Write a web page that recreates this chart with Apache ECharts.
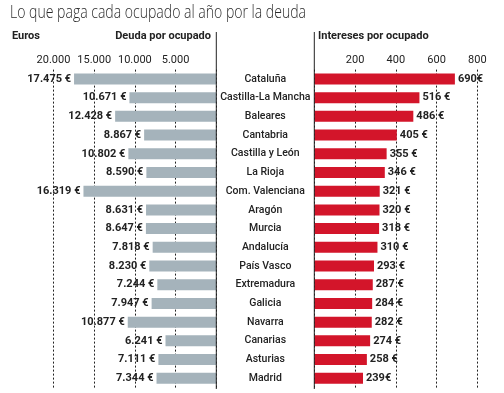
<!DOCTYPE html>
<html><head><meta charset="utf-8">
<script src="https://cdn.jsdelivr.net/npm/echarts@6/dist/echarts.min.js"></script>
<style>html,body{margin:0;padding:0;background:#fff}#c{width:504px;height:393px}</style>
</head><body><div id="c"></div>
<script>
const regiones = ["Cataluña","Castilla-La Mancha","Baleares","Cantabria","Castilla y León","La Rioja","Com. Valenciana","Aragón","Murcia","Andalucía","País Vasco","Extremadura","Galicia","Navarra","Canarias","Asturias","Madrid"];
const deuda = [17475,10671,12428,8867,10802,8590,16319,8631,8647,7818,8230,7244,7947,10877,6241,7111,7344];
const intereses = [690,516,486,405,355,346,321,320,318,310,293,287,284,282,274,258,239];
const sinEspacio = ["Cataluña","Madrid"];
const ticksDeuda = [5000,10000,15000,20000];
const ticksInt = [200,400,600,800];

const FONT = 'Roboto, "Liberation Sans", sans-serif';
const fmtMiles = v => String(v).replace(/\B(?=(\d{3})+(?!\d))/g, '.');
const chart = echarts.init(document.getElementById('c'), null, {renderer:'canvas'});
const gTop = 69.6, gH = 318;
chart.setOption({
  animation:false,
  textStyle:{fontFamily:FONT},
  graphic:[
    {type:'text', x:10, y:4, scaleX:0.78, style:{text:'Lo que paga cada ocupado al año por la deuda', font:'300 18px "Open Sans", sans-serif', fill:'#2a2a2a'}},
    {type:'text', x:12, y:31, style:{text:'Euros', font:'bold 11px '+FONT, fill:'#222'}},
    {type:'text', x:211, y:31, style:{text:'Deuda por ocupado', font:'bold 11px '+FONT, fill:'#222', align:'right'}},
    {type:'text', x:318, y:31, style:{text:'Intereses por ocupado', font:'bold 11px '+FONT, fill:'#222'}},
    {type:'line', shape:{x1:216.3,y1:32,x2:216.3,y2:389}, style:{stroke:'#222', lineWidth:1}, z:100},
    {type:'line', shape:{x1:314.3,y1:32,x2:314.3,y2:389}, style:{stroke:'#222', lineWidth:1}, z:100}
  ],
  grid:[
    {left:53.5, width:162.8, top:gTop, height:gH},
    {left:314.3, width:163, top:gTop, height:gH}
  ],
  xAxis:[
    {gridIndex:0, type:'value', inverse:true, min:0, max:20000, interval:5000, position:'top',
     axisLine:{show:false}, axisTick:{show:false},
     axisLabel:{margin:4, fontSize:11, color:'#222', fontFamily:FONT,
       formatter:v => ticksDeuda.includes(v) ? fmtMiles(v) : ''},
     splitLine:{lineStyle:{type:[2,2], color:'#222', width:1}}},
    {gridIndex:1, type:'value', min:0, max:800, interval:200, position:'top',
     axisLine:{show:false}, axisTick:{show:false},
     axisLabel:{margin:4, fontSize:11, color:'#222', fontFamily:FONT,
       formatter:v => ticksInt.includes(v) ? String(v) : ''},
     splitLine:{lineStyle:{type:[2,2], color:'#222', width:1}}}
  ],
  yAxis:[
    {gridIndex:0, type:'category', data:regiones, inverse:true, position:'right',
     axisLine:{show:false}, axisTick:{show:false}, axisLabel:{show:false}},
    {gridIndex:1, type:'category', data:regiones, inverse:true, position:'left',
     axisLine:{show:false}, axisTick:{show:false},
     axisLabel:{align:'center', margin:49, fontSize:10.5, color:'#222', fontFamily:FONT, fontWeight:500}}
  ],
  series:[
    {type:'bar', xAxisIndex:0, yAxisIndex:0, data:deuda, barWidth:11,
     itemStyle:{color:'#a5b3bb'},
     label:{show:true, position:'left', distance:3, fontSize:11, fontWeight:'bold', color:'#222', fontFamily:FONT,
       formatter:p => fmtMiles(p.value) + ' €'}},
    {type:'bar', xAxisIndex:1, yAxisIndex:1, data:intereses, barWidth:11,
     itemStyle:{color:'#d3152a'},
     label:{show:true, position:'right', distance:3, fontSize:11, fontWeight:'bold', color:'#222', fontFamily:FONT,
       formatter:p => p.value + (sinEspacio.includes(p.name) ? '€' : ' €')}}
  ]
});
</script></body></html>
